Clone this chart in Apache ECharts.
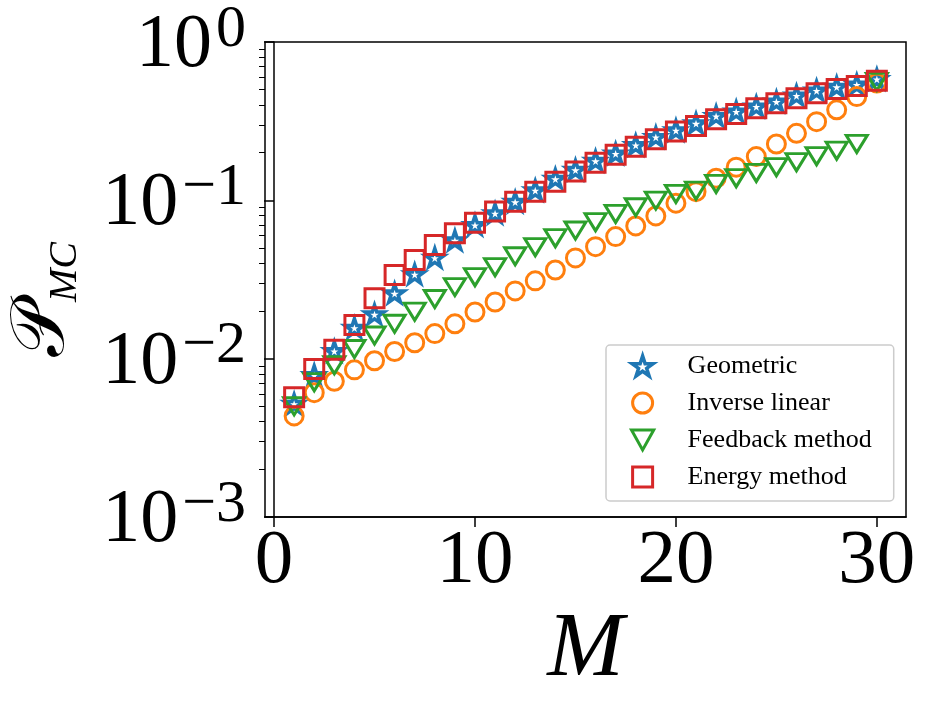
<!DOCTYPE html>
<html>
<head>
<meta charset="utf-8">
<script src="https://cdn.jsdelivr.net/npm/echarts@6/dist/echarts.min.js"></script>
<style>
  html, body { margin: 0; padding: 0; background: #fff; }
  #chart { width: 930px; height: 705px; }
</style>
</head>
<body>
<div id="chart"></div>
<script>
// values
const mValues = [1, 2, 3, 4, 5, 6, 7, 8, 9, 10, 11, 12, 13, 14, 15, 16, 17, 18, 19, 20, 21, 22, 23, 24, 25, 26, 27, 28, 29, 30]
const geometric = [0.0052, 0.0079, 0.0112, 0.0157, 0.0191, 0.0259, 0.0342, 0.0435, 0.056, 0.070,
  0.083, 0.098, 0.116, 0.137, 0.156, 0.178, 0.198, 0.224, 0.252, 0.278,
  0.307, 0.342, 0.365, 0.392, 0.421, 0.460, 0.495, 0.522, 0.540, 0.585]
const inverseLinear = [0.00435, 0.0061, 0.0072, 0.0085, 0.0097, 0.0111, 0.0126, 0.0144, 0.0166, 0.0197,
  0.0228, 0.0268, 0.031, 0.0363, 0.0433, 0.051, 0.059, 0.0689, 0.0797, 0.096,
  0.1135, 0.138, 0.162, 0.189, 0.227, 0.265, 0.314, 0.373, 0.452, 0.55]
const feedback = [0.0050, 0.0071, 0.0091, 0.0115, 0.0140, 0.0166, 0.0198, 0.0238, 0.0283, 0.0327,
  0.0378, 0.0443, 0.0506, 0.0577, 0.0644, 0.0728, 0.082, 0.0904, 0.0996, 0.1097,
  0.115, 0.127, 0.138, 0.149, 0.162, 0.174, 0.190, 0.206, 0.227, 0.56]
const energy = [0.0057, 0.0086, 0.0114, 0.0163, 0.0241, 0.0338, 0.042, 0.0523, 0.062, 0.0723,
  0.0849, 0.098, 0.1135, 0.131, 0.152, 0.173, 0.194, 0.218, 0.243, 0.272,
  0.295, 0.325, 0.351, 0.382, 0.411, 0.442, 0.475, 0.504, 0.528, 0.570]

const xTicks = [0, 10, 20, 30]
const yTicks = [0.001, 0.01, 0.1, 1]
const yMinorTicks = [0.002, 0.003, 0.004, 0.005, 0.006, 0.007, 0.008, 0.009,
  0.02, 0.03, 0.04, 0.05, 0.06, 0.07, 0.08, 0.09,
  0.2, 0.3, 0.4, 0.5, 0.6, 0.7, 0.8, 0.9]

const FONT = 'Liberation Serif'
const STAR = 'path://M0,-1L-0.2245,-0.309L-0.9511,-0.309L-0.3633,0.118L-0.5878,0.809L0,0.382L0.5878,0.809L0.3633,0.118L0.9511,-0.309L0.2245,-0.309Z'
const TRI_DOWN = 'path://M0,0L2,0L1,1.8Z'
const SQUARE = 'path://M0,0L1,0L1,1L0,1Z'

const chart = echarts.init(document.getElementById('chart'))

function makeSeries(name, values, symbol, size, color, bw) {
  return {
    name: name,
    type: 'scatter',
    data: mValues.map((m, i) => [m, values[i]]),
    symbol: symbol,
    symbolSize: size,
    symbolKeepAspect: true,
    itemStyle: { color: 'rgba(255,255,255,0)', borderColor: color, borderWidth: bw, opacity: 1 },
    emphasis: { disabled: true }
  }
}

function legendItem(name, icon, color, bw) {
  return { name: name, icon: icon, itemStyle: { color: 'rgba(255,255,255,0)', borderColor: color, borderWidth: bw } }
}

function expLabel(v) {
  const e = Math.round(Math.log10(v))
  const s = e < 0 ? '\u2212' + (-e) : String(e)
  return '{b|10}{s|' + s + '}'
}

const axisLineStyle = { color: '#000', width: 1.5 }

const option = {
  animation: false,
  textStyle: { fontFamily: FONT },
  grid: {
    left: 265, right: 24, top: 42, bottom: 188,
    outerBoundsMode: 'none',
    containLabel: false,
    show: true, borderColor: '#000', borderWidth: 1.5
  },
  legend: {
    orient: 'vertical',
    left: 606,
    top: 345,
    padding: [8, 22, 11, 24],
    itemWidth: 70,
    itemHeight: 20,
    itemGap: 11,
    borderColor: '#cccccc',
    borderWidth: 1.5,
    borderRadius: 4,
    backgroundColor: 'rgba(255,255,255,0.8)',
    textStyle: { fontFamily: FONT, fontSize: 26, color: '#000', padding: [0, 0, 0, 5] },
    data: [
      legendItem('Geometric', STAR, '#1f77b4', 3.5),
      legendItem('Inverse linear', 'circle', '#ff7f0e', 3),
      legendItem('Feedback method', TRI_DOWN, '#2ca02c', 3),
      legendItem('Energy method', SQUARE, '#d62728', 3)
    ]
  },
  xAxis: {
    type: 'value',
    min: -0.45,
    max: 31.45,
    axisLine: { show: true, lineStyle: axisLineStyle },
    axisTick: { show: true, length: 10, customValues: xTicks, lineStyle: axisLineStyle },
    axisLabel: { customValues: xTicks, fontFamily: FONT, fontSize: 77, color: '#000', margin: 6 },
    splitLine: { show: false },
    name: 'M',
    nameLocation: 'middle',
    nameGap: 66,
    nameTextStyle: { fontFamily: FONT, fontStyle: 'italic', fontSize: 92, color: '#000' }
  },
  yAxis: [{
    type: 'log',
    logBase: 10,
    min: 0.001,
    max: 1,
    axisLine: { show: true, lineStyle: axisLineStyle },
    axisTick: { show: true, length: 10, customValues: yTicks, lineStyle: axisLineStyle },
    axisLabel: {
      customValues: yTicks,
      margin: 19,
      formatter: expLabel,
      rich: {
        b: { fontFamily: FONT, fontSize: 76, lineHeight: 84, verticalAlign: 'bottom', color: '#000' },
        s: { fontFamily: FONT, fontSize: 60, lineHeight: 58, verticalAlign: 'top', color: '#000', padding: [0, 0, 0, 4] }
      }
    },
    splitLine: { show: false },
    name: '{p|\uD835\uDCAB}{s|MC}',
    nameLocation: 'middle',
    nameGap: 180,
    nameTextStyle: {
      padding: [0, 40, 0, 0],
      rich: {
        p: { fontFamily: FONT, fontSize: 76, lineHeight: 80, verticalAlign: 'top', color: '#000' },
        s: { fontFamily: FONT, fontStyle: 'italic', fontSize: 40, lineHeight: 40, verticalAlign: 'bottom', color: '#000' }
      }
    }
  }, {
    type: 'log',
    logBase: 10,
    min: 0.001,
    max: 1,
    position: 'left',
    axisLine: { show: false },
    axisTick: { show: true, length: 6, customValues: yMinorTicks, lineStyle: { color: '#000', width: 1 } },
    axisLabel: { show: false },
    splitLine: { show: false }
  }],
  series: [
    makeSeries('Geometric', geometric, STAR, 19, '#1f77b4', 3.5),
    makeSeries('Inverse linear', inverseLinear, 'circle', 18, '#ff7f0e', 3),
    makeSeries('Feedback method', feedback, TRI_DOWN, [21, 19], '#2ca02c', 3),
    makeSeries('Energy method', energy, SQUARE, 19, '#d62728', 3)
  ]
}

chart.setOption(option)
</script>
</body>
</html>
